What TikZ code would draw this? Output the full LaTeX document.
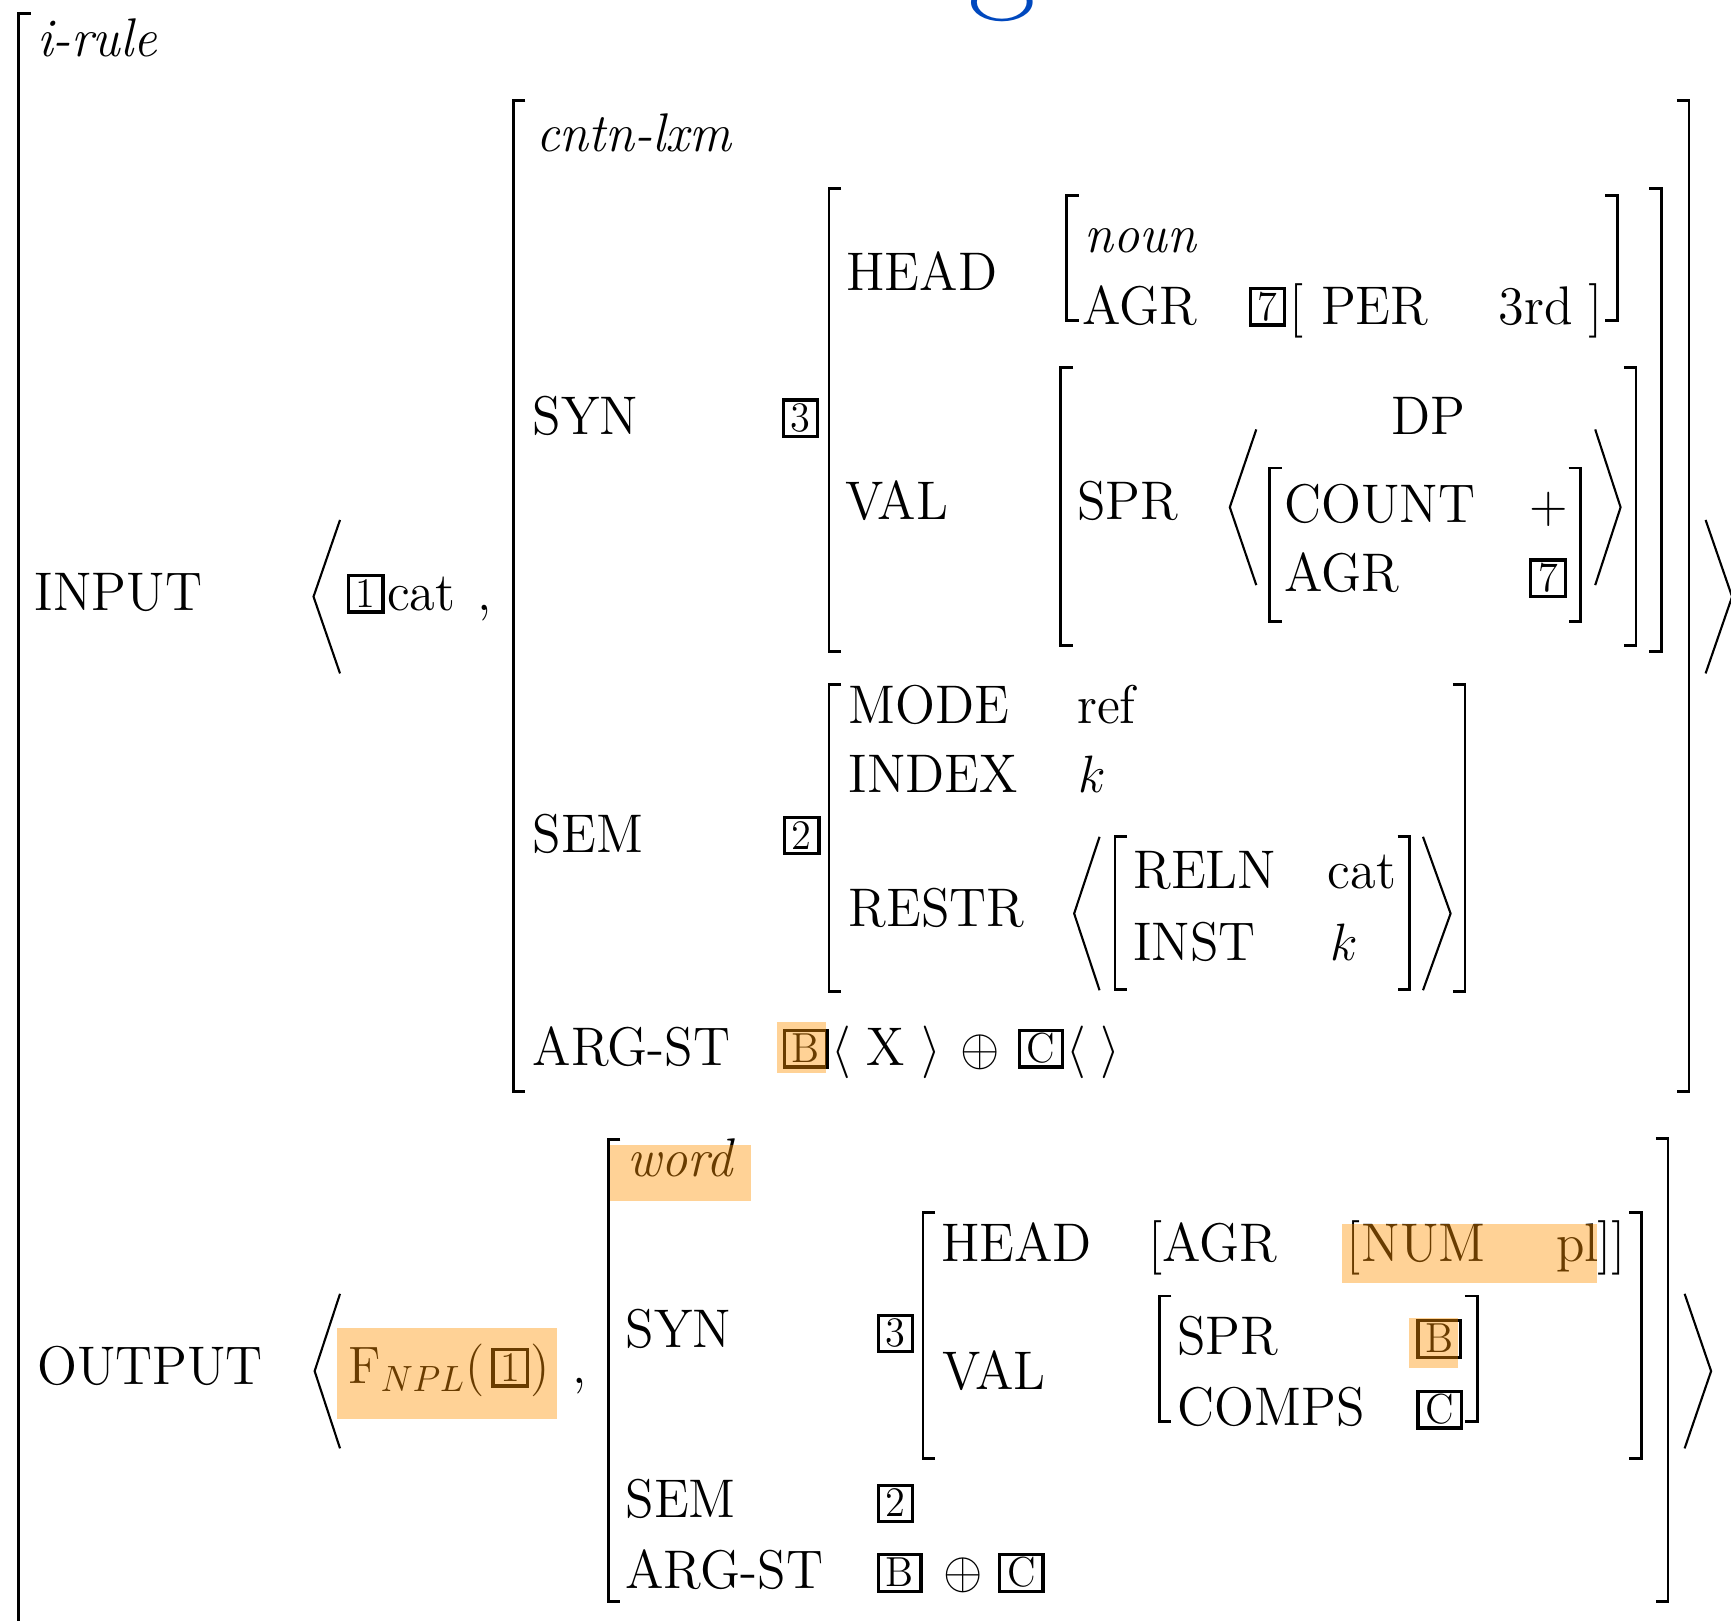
\documentclass[tikz,border=0pt]{standalone}
\usepackage{amsmath}
\usepackage{tikz}
\usepackage{color}
\definecolor{hilite}{RGB}{255,146,0}
\definecolor{titleblue}{RGB}{0,72,190}
\newcommand{\avmfont}{\fontsize{14.9}{17}\selectfont}
\newcommand{\tagfont}{\fontsize{11.5}{12}\selectfont}
\tikzset{
  every node/.style={inner sep=0pt, anchor=base west, font=\avmfont, yscale=1.04},
  avmtag/.style={draw, line width=0.95pt, anchor=south west, font=\tagfont,
    text height=7.4pt, text depth=0pt, inner xsep=2.1pt, inner ysep=1.3pt},
  brak/.style={line width=0.8pt},
  angl/.style={line width=0.6pt},
  hl/.style={fill=hilite, fill opacity=0.41, draw=none}
}

\begin{document}
\begin{tikzpicture}[x=0.01104cm, y=-0.01104cm]
    \useasboundingbox (0,0) rectangle (1568,1468);
    \clip (0,0) rectangle (1568,1468);
    \node (title) [anchor=base, text=titleblue, font=\fontsize{42}{42}\selectfont] at (908,-9) {g};
    % brackets: x / top / bottom
    \foreach \x/\a/\b in {17/12/1500, 465/91/989, 751/171/590, 966/177/290, 961/333/585,
        1150/424/563, 751/620/898, 1010/758/896, 551/1032/1451, 836/1098/1321, 1050/1174/1288}
    \draw[brak] (\x+11,\a) -- (\x,\a) -- (\x,\b) -- (\x+11,\b);
    \foreach \x/\a/\b in {1530/91/989, 1505/171/590, 1465/177/290, 1482/333/585,
        1432/424/563, 1327/620/898, 1277/758/896, 1511/1031/1451, 1487/1098/1321, 1338/1174/1288}
    \draw[brak] (\x-11,\a) -- (\x,\a) -- (\x,\b) -- (\x-11,\b);
    % angle brackets: open x / vertex x / top / bottom
    \foreach \x/\v/\a/\b in {308/284/471/610, 1545/1569/471/610, 1138/1114/389/530, 1445/1468/389/530,
        996/973/758/897, 1289/1314/758/897, 308/285/1172/1312, 1526/1550/1172/1312}
    \draw[angl] (\x,\a) -- (\v,{(\a+\b)/2}) -- (\x,\b);

    % INPUT
    \node (irule) at (33,51) {\textit{i-rule}};
    \node (input) at (31,553) {INPUT};
    \node (t1) [avmtag] at (314,556) {1};
    \node (cat) at (350,553) {cat};
    \node (comma1) at (432,553) {,};
    \node (cntn) at (485,137) {\textit{cntn-lxm}};
    \node (syn) at (482,394) {SYN};
    \node (t3) [avmtag] at (708,397) {3};
    \node (head) at (766,263) {HEAD};
    \node (noun) at (982,229) {\textit{noun}};
    \node (agr) at (980,294) {AGR};
    \node (t7) [avmtag] at (1131,296) {7};
    \node (perl) at (1167,294) {[};
    \node (per) at (1196,294) {PER};
    \node (third) at (1357,294) {3rd};
    \node (perr) at (1438,294) {]};
    \node (val) at (765,471) {VAL};
    \node (spr) at (975,471) {SPR};
    \node (dp) at (1260,394) {DP};
    \node (count) at (1163,473) {COUNT};
    \node (plus) at (1385,473) {$+$};
    \node (agr2) at (1163,536) {AGR};
    \node (t7b) [avmtag] at (1385,542) {7};
    \node (sem) at (482,772) {SEM};
    \node (t2) [avmtag] at (709,775) {2};
    \node (mode) at (768,655) {MODE};
    \node (ref) at (975,655) {ref};
    \node (index) at (768,718) {INDEX};
    \node (k) at (976,718) {$k$};
    \node (restr) at (768,839) {RESTR};
    \node (reln) at (1026,805) {RELN};
    \node (cat2) at (1202,805) {cat};
    \node (inst) at (1026,870) {INST};
    \node (k2) at (1205,870) {$k$};
    \node (argst) at (482,965) {ARG-ST};
    \node (tb) [avmtag] at (709,968) {B};
    \node (la) at (753,965) {$\langle$};
    \node (x) at (784,965) {X};
    \node (ra) at (834,965) {$\rangle$};
    \node (op) at (869,965) {$\oplus$};
    \node (tc) [avmtag] at (922,968) {C};
    \node (la2) at (965,965) {$\langle$};
    \node (ra2) at (996,965) {$\rangle$};

    % OUTPUT
    \node (output) at (33,1254) {OUTPUT};
    \node (fnpl) at (315,1253) {$\mathrm{F}_{NPL}($};
    \node (t1b) [avmtag] at (445,1257) {1};
    \node (fpar) at (480,1253) {$)$};
    \node (comma2) at (518,1253) {,};
    \node (word) at (568,1066) {\textit{word}};
    \node (osyn) at (566,1221) {SYN};
    \node (ot3) [avmtag] at (794,1226) {3};
    \node (ohead) at (852,1143) {HEAD};
    \node (oagrl) at (1040,1143) {[};
    \node (oagr) at (1052,1143) {AGR};
    \node (numl) at (1219,1143) {[};
    \node (num) at (1233,1143) {NUM};
    \node (pl) at (1409,1143) {pl};
    \node (numr) at (1446,1143) {]]};
    \node (oval) at (853,1259) {VAL};
    \node (ospr) at (1066,1227) {SPR};
    \node (otb) [avmtag] at (1283,1231) {B};
    \node (comps) at (1066,1291) {COMPS};
    \node (otc) [avmtag] at (1283,1295) {C};
    \node (osem) at (566,1375) {SEM};
    \node (ot2) [avmtag] at (794,1380) {2};
    \node (oargst) at (566,1439) {ARG-ST};
    \node (otb2) [avmtag] at (794,1443) {B};
    \node (oop) at (854,1439) {$\oplus$};
    \node (otc2) [avmtag] at (904,1443) {C};

    % highlights
    \fill[hl] (704,926) rectangle (748,972);
    \fill[hl] (553,1037) rectangle (680,1088);
    \fill[hl] (305,1203) rectangle (505,1285);
    \fill[hl] (1216,1109) rectangle (1447,1162);
    \fill[hl] (1276,1194) rectangle (1321,1239);
  \end{tikzpicture}
\end{document}
